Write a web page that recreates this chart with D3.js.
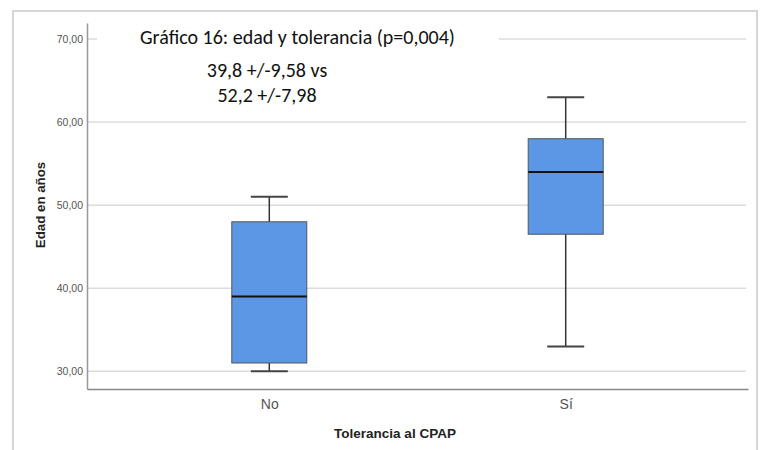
<!DOCTYPE html>
<html>
<head>
<meta charset="utf-8">
<script src="https://cdn.jsdelivr.net/npm/d3@7"></script>
<style>
  body { margin: 0; background: #fff; }
  svg { display: block; }
</style>
</head>
<body>
<div id="display"></div>
<script>
// data
const categories = ['No', 'Sí'];
const whiskerLow = [30, 33];
const q1 = [31, 46.5];
const medians = [39, 54];
const q3 = [48, 58];
const whiskerHigh = [51, 63];
const yTicks = [30, 40, 50, 60, 70];
const titleLines = ['Gráfico 16: edad y tolerancia (p=0,004)', '39,8 +/-9,58 vs', '52,2 +/-7,98'];

const svg = d3.select('#display')
    .append('svg')
    .attr('width', 766)
    .attr('height', 450);

// outer frame
svg.append('rect')
    .attr('x', 13).attr('y', 11)
    .attr('width', 744).attr('height', 460)
    .attr('fill', 'white')
    .attr('stroke', '#c8c8c8')
    .attr('stroke-width', 1.5);

const plotLeft = 87, plotRight = 748, plotTop = 23, plotBottom = 389;

const y = d3.scaleLinear()
    .domain([27.87, 71.93])
    .range([plotBottom, plotTop]);

const x = d3.scalePoint()
    .domain(categories)
    .range([plotLeft, plotRight])
    .padding(0.615);

// gridlines
svg.append('g')
    .selectAll('line')
    .data(yTicks)
    .join('line')
    .attr('x1', plotLeft)
    .attr('x2', 746)
    .attr('y1', d => y(d))
    .attr('y2', d => y(d))
    .attr('stroke', '#dcdcdc')
    .attr('stroke-width', 1.5);

// y axis
const yAxis = svg.append('g')
    .attr('transform', `translate(${plotLeft},0)`)
    .call(d3.axisLeft(y).tickValues(yTicks).tickSize(0).tickPadding(4)
        .tickFormat(d => d3.format('.2f')(d).replace('.', ',')));
yAxis.select('.domain').attr('stroke', '#999').attr('stroke-width', 1.5);
yAxis.selectAll('text')
    .attr('font-family', 'Liberation Sans, Arial, sans-serif')
    .attr('font-size', 10.5)
    .attr('fill', '#555');

// x axis
const xAxis = svg.append('g')
    .attr('transform', `translate(0,${plotBottom})`)
    .call(d3.axisBottom(x).tickSize(0).tickPadding(10));
xAxis.select('.domain').attr('stroke', '#888').attr('stroke-width', 1.5);
xAxis.selectAll('text')
    .attr('font-family', 'Liberation Sans, Arial, sans-serif')
    .attr('font-size', 14)
    .attr('fill', '#555');

// axis titles
svg.append('text')
    .attr('transform', `translate(45,205) rotate(-90)`)
    .attr('text-anchor', 'middle')
    .attr('font-family', 'Liberation Sans, Arial, sans-serif')
    .attr('font-weight', 'bold')
    .attr('font-size', 13.3)
    .attr('fill', '#222')
    .text('Edad en años');

svg.append('text')
    .attr('x', 395).attr('y', 438)
    .attr('text-anchor', 'middle')
    .attr('font-family', 'Liberation Sans, Arial, sans-serif')
    .attr('font-weight', 'bold')
    .attr('font-size', 13.5)
    .attr('fill', '#222')
    .text('Tolerancia al CPAP');

// boxes
const boxW = 75, capW = 37;
const boxes = svg.append('g')
    .selectAll('g')
    .data(categories)
    .join('g');

boxes.append('line')
    .attr('x1', d => x(d)).attr('x2', d => x(d))
    .attr('y1', (d, i) => y(whiskerLow[i]))
    .attr('y2', (d, i) => y(whiskerHigh[i]))
    .attr('stroke', '#333').attr('stroke-width', 1.5);

boxes.selectAll('line.cap')
    .data((d, i) => [whiskerLow[i], whiskerHigh[i]].map(v => ({cat: d, v})))
    .join('line')
    .attr('class', 'cap')
    .attr('x1', d => x(d.cat) - capW / 2)
    .attr('x2', d => x(d.cat) + capW / 2)
    .attr('y1', d => y(d.v))
    .attr('y2', d => y(d.v))
    .attr('stroke', '#444').attr('stroke-width', 2);

boxes.append('rect')
    .attr('x', d => x(d) - boxW / 2)
    .attr('width', boxW)
    .attr('y', (d, i) => y(q3[i]))
    .attr('height', (d, i) => y(q1[i]) - y(q3[i]))
    .attr('fill', '#5b97e4')
    .attr('stroke', '#555')
    .attr('stroke-width', 1);

boxes.append('line')
    .attr('x1', d => x(d) - boxW / 2)
    .attr('x2', d => x(d) + boxW / 2)
    .attr('y1', (d, i) => y(medians[i]))
    .attr('y2', (d, i) => y(medians[i]))
    .attr('stroke', '#111').attr('stroke-width', 2);

// title text box covering the top gridline
svg.append('rect')
    .attr('x', 97).attr('y', 18)
    .attr('width', 402).attr('height', 92)
    .attr('fill', 'white');

const titleFont = 'Carlito, Calibri, "Open Sans", sans-serif';
svg.append('text')
    .attr('x', 140).attr('y', 44)
    .attr('font-family', titleFont)
    .attr('font-size', 20)
    .attr('fill', '#111')
    .text(titleLines[0]);

svg.selectAll('text.sub')
    .data(titleLines.slice(1))
    .join('text')
    .attr('class', 'sub')
    .attr('x', 267)
    .attr('y', (d, i) => 77 + i * 25)
    .attr('text-anchor', 'middle')
    .attr('font-family', titleFont)
    .attr('font-size', 20)
    .attr('fill', '#111')
    .text(d => d);
</script>
</body>
</html>
